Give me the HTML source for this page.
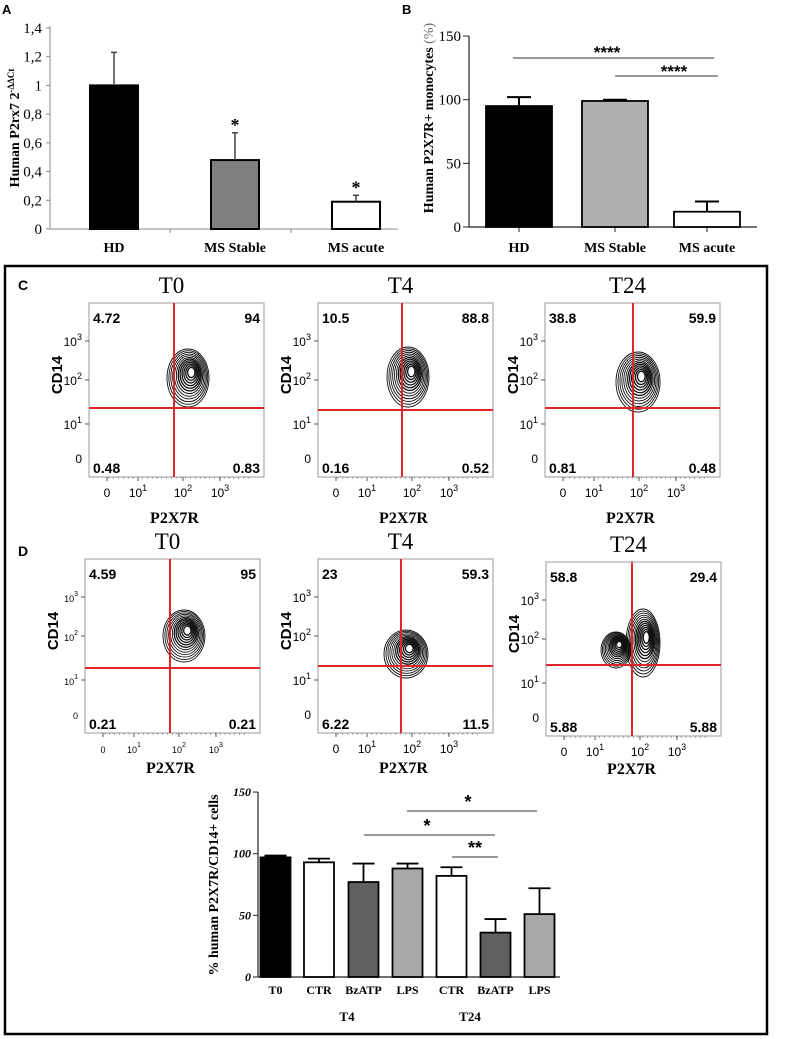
<!DOCTYPE html>
<html><head><meta charset="utf-8"><style>
html,body{margin:0;padding:0;background:#fff;}
svg{display:block;}
</style></head><body>
<svg id="fig" width="794" height="1039" viewBox="0 0 794 1039" xmlns="http://www.w3.org/2000/svg">
<rect x="0" y="0" width="794" height="1039" fill="#fff"/>
<g id="panelA"></g>
<g id="panelB"></g>
<rect x="5" y="266" width="762" height="768" fill="none" stroke="#000" stroke-width="2.5"/>
<g id="flow"></g>
<g id="panelE"></g>
</svg>
<script>
// ---------- data ----------
const catsA = ["HD","MS Stable","MS acute"];
const valsA = [1.0, 0.48, 0.19];
const errA = [0.23, 0.19, 0.045];
const ticksA = ["0","0,2","0,4","0,6","0,8","1","1,2","1,4"];
const tickValsA = [0,0.2,0.4,0.6,0.8,1.0,1.2,1.4];

const catsB = ["HD","MS Stable","MS acute"];
const valsB = [95, 99, 12];
const errB = [7, 1, 8];
const tickValsB = [0,50,100,150];

const catsE = ["T0","CTR","BzATP","LPS","CTR","BzATP","LPS"];
const valsE = [97, 93, 77, 88, 82, 36, 51];
const errE = [1.5, 3, 15, 4, 7, 11, 21];
const tickValsE = [0,50,100,150];

const flowNums = [
 ["4.72","94","0.48","0.83"],["10.5","88.8","0.16","0.52"],["38.8","59.9","0.81","0.48"],
 ["4.59","95","0.21","0.21"],["23","59.3","6.22","11.5"],["58.8","29.4","5.88","5.88"]];
const flowTitles = ["T0","T4","T24","T0","T4","T24"];

const NS="http://www.w3.org/2000/svg";
function mk(parent, tag, attrs, text){
  const e=document.createElementNS(NS,tag);
  for(const k in attrs) e.setAttribute(k,attrs[k]);
  if(text!==undefined) e.textContent=text;
  parent.appendChild(e); return e;
}

// ---------- Panel A ----------
(function(){
  const g=document.getElementById('panelA');
  const y=v=>229-v*143.6;
  const xc=[114,235,356];
  const colors=["#000","#808080","#fff"];
  let t=mk(g,'text',{x:2,y:14,'font-family':'Liberation Sans,sans-serif','font-weight':'bold','font-size':13},'A');
   
  let ax=mk(g,'line',{x1:50,y1:26,x2:50,y2:229,stroke:'#888','stroke-width':1});
   
  let bx=mk(g,'line',{x1:47,y1:229,x2:398,y2:229,stroke:'#888','stroke-width':1});
   
  tickValsA.forEach((v,i)=>{
    mk(g,'line',{x1:46,y1:y(v),x2:50,y2:y(v),stroke:'#888'});
    let l=mk(g,'text',{x:42,y:y(v)+5,'text-anchor':'end','font-family':'Liberation Serif,serif','font-size':15},ticksA[i]);
     
  });
  [170,291].forEach(x=>mk(g,'line',{x1:x,y1:229,x2:x,y2:233,stroke:'#888'}));
  catsA.forEach((c,i)=>{
    const b=mk(g,'rect',{x:xc[i]-24,y:y(valsA[i]),width:48,height:229-y(valsA[i]),fill:colors[i],stroke:'#000','stroke-width':2});
     
    const e=mk(g,'line',{x1:xc[i],y1:y(valsA[i]),x2:xc[i],y2:y(valsA[i]+errA[i]),stroke:'#444','stroke-width':1.5});
     
    mk(g,'line',{x1:xc[i]-3,y1:y(valsA[i]+errA[i]),x2:xc[i]+3,y2:y(valsA[i]+errA[i]),stroke:'#444','stroke-width':1.5});
    if(i>0){ const s=mk(g,'text',{x:xc[i],y:y(valsA[i]+errA[i])-2,'text-anchor':'middle','font-family':'Liberation Serif,serif','font-weight':'bold','font-size':18},'*');
       }
    const l=mk(g,'text',{x:xc[i],y:252,'text-anchor':'middle','font-family':'Liberation Serif,serif','font-weight':'bold','font-size':14},c);
     
  });
  const tt=mk(g,'text',{transform:'translate(19,128) rotate(-90)','text-anchor':'middle','font-family':'Liberation Serif,serif','font-weight':'bold','font-size':14});
   
  mk(tt,'tspan',{},'Human P2rx7 2');
  mk(tt,'tspan',{dy:-5,'font-size':9},'-ΔΔCt');
})();

// ---------- Panel B ----------
(function(){
  const g=document.getElementById('panelB');
  const y=v=>227-v*1.273;
  const xc=[519,615,707];
  const colors=["#000","#b0b0b0","#fff"];
  let t=mk(g,'text',{x:402,y:14,'font-family':'Liberation Sans,sans-serif','font-weight':'bold','font-size':13},'B');
   
  let ax=mk(g,'line',{x1:469,y1:36,x2:469,y2:227,stroke:'#222','stroke-width':1.2});
   
  let bx=mk(g,'line',{x1:469,y1:227,x2:757,y2:227,stroke:'#222','stroke-width':1.2});
   
  tickValsB.forEach(v=>{
    mk(g,'line',{x1:463,y1:y(v),x2:469,y2:y(v),stroke:'#222'});
    let l=mk(g,'text',{x:461,y:y(v)+5,'text-anchor':'end','font-family':'Liberation Serif,serif','font-size':15},String(v));
     
  });
  catsB.forEach((c,i)=>{
    mk(g,'line',{x1:xc[i],y1:227,x2:xc[i],y2:232,stroke:'#222'});
    const b=mk(g,'rect',{x:xc[i]-33,y:y(valsB[i]),width:66,height:227-y(valsB[i]),fill:colors[i],stroke:'#000','stroke-width':1.8});
     
    const e=mk(g,'line',{x1:xc[i],y1:y(valsB[i]),x2:xc[i],y2:y(valsB[i]+errB[i]),stroke:'#000','stroke-width':2});
     
    mk(g,'line',{x1:xc[i]-12,y1:y(valsB[i]+errB[i]),x2:xc[i]+12,y2:y(valsB[i]+errB[i]),stroke:'#000','stroke-width':2});
    const l=mk(g,'text',{x:xc[i],y:252,'text-anchor':'middle','font-family':'Liberation Serif,serif','font-weight':'bold','font-size':14},c);
     
  });
  let s1=mk(g,'line',{x1:513,y1:58,x2:714,y2:58,stroke:'#333','stroke-width':1});
   
  let s2=mk(g,'line',{x1:615,y1:76,x2:718,y2:76,stroke:'#333','stroke-width':1});
   
  let st1=mk(g,'text',{x:607,y:58,'text-anchor':'middle','font-family':'Liberation Sans,sans-serif','font-weight':'bold','font-size':17},'****');
   
  let st2=mk(g,'text',{x:674,y:77,'text-anchor':'middle','font-family':'Liberation Sans,sans-serif','font-weight':'bold','font-size':17},'****');
   
  const tt=mk(g,'text',{transform:'translate(433,118) rotate(-90)','text-anchor':'middle','font-family':'Liberation Serif,serif','font-weight':'bold','font-size':14},'Human P2X7R+ monocytes ');
   
  mk(tt,'tspan',{'font-weight':'normal','fill':'#666'},'(%)');
})();

// ---------- Flow plots ----------
(function(){
  const g=document.getElementById('flow');
  const plots=[
    {l:89,t:303,rx:174,ry:408,xo:46,blob:[[188,378,21,29]]},
    {l:318,t:303,rx:402,ry:410,xo:46,blob:[[408,377,21,30]]},
    {l:545,t:303,rx:633,ry:408,xo:46,blob:[[638,382,22,30]]},
    {l:85,t:559,rx:170,ry:668,xo:40,blob:[[184,636,21,26]]},
    {l:318,t:559,rx:401,ry:666,xo:40,blob:[[406,654,22,24]]},
    {l:546,t:562,rx:632,ry:665,xo:38,blob:[[616,650,15,18],[643,643,17,34]]}];
  const ph=174, pw=175;
  let cl=mk(g,'text',{x:18,y:290,'font-family':'Liberation Sans,sans-serif','font-weight':'bold','font-size':14},'C');
   
  let dl=mk(g,'text',{x:18,y:556,'font-family':'Liberation Sans,sans-serif','font-weight':'bold','font-size':14},'D');
   
  plots.forEach((p,i)=>{
    const pg=mk(g,'g',{});
    
    
    const ti=mk(pg,'text',{x:p.l+pw/2-5,y:p.t-10,'text-anchor':'middle','font-family':'Liberation Serif,serif','font-size':23},flowTitles[i]);
     
    mk(pg,'rect',{x:p.l,y:p.t,width:pw,height:ph,fill:'#fff',stroke:'#999','stroke-width':1});
    // contours
    p.blob.forEach(b=>{
      for(let k=0;k<12;k++){
        const f=1-k*0.075;
        mk(pg,'ellipse',{cx:b[0]+k*0.3,cy:b[1]-k*0.5,rx:b[2]*f,ry:b[3]*f,fill:'none',stroke:'#111','stroke-width':k>5?1.3:0.9});
      }
      mk(pg,'ellipse',{cx:b[0]+3,cy:b[1]-5,rx:b[2]*0.12,ry:b[3]*0.1,fill:'#fff'});
    });
    // red gates
    const v=mk(pg,'line',{x1:p.rx,y1:p.t,x2:p.rx,y2:p.t+ph,stroke:'#e0262a','stroke-width':2});
     
    const h=mk(pg,'line',{x1:p.l,y1:p.ry,x2:p.l+pw,y2:p.ry,stroke:'#e0262a','stroke-width':2});
     
    // numbers
    const n=flowNums[i], fs=14, ff='Liberation Sans,sans-serif';
    [[p.l+4,p.t+20,'start',n[0]],[p.l+pw-4,p.t+20,'end',n[1]],[p.l+4,p.t+ph-4,'start',n[2]],[p.l+pw-4,p.t+ph-4,'end',n[3]]].forEach(q=>{
      const tq=mk(pg,'text',{x:q[0],y:q[1],'text-anchor':q[2],'font-family':ff,'font-weight':'bold','font-size':fs},q[3]);
       
    });
    // y ticks
    const ys=[[38,'3'],[77,'2'],[121,'1']];
    const small = i===3;
    ys.forEach(yy=>{
      mk(pg,'line',{x1:p.l-4,y1:p.t+yy[0],x2:p.l,y2:p.t+yy[0],stroke:'#555'});
      const tx=mk(pg,'text',{x:p.l-7,y:p.t+yy[0]+5,'text-anchor':'end','font-family':ff,'font-size':small?9:12},'10');
      mk(tx,'tspan',{dy:-6,'font-size':small?7:9},yy[1]);
    });
    mk(pg,'text',{x:p.l-7,y:p.t+160,'text-anchor':'end','font-family':ff,'font-size':small?9:12},'0');
    // x ticks
    const xs=[[18,'0'],[49,'1'],[94,'2'],[131,'3']];
    xs.forEach((xx,j)=>{
      mk(pg,'line',{x1:p.l+xx[0],y1:p.t+ph,x2:p.l+xx[0],y2:p.t+ph+4,stroke:'#555'});
      const tx=mk(pg,'text',{x:p.l+xx[0],y:p.t+ph+20,'text-anchor':'middle','font-family':ff,'font-size':small?9:12},j===0?'0':'10');
      if(j>0) mk(tx,'tspan',{dy:-6,'font-size':small?7:9},xx[1]);
    });
    for(let k=0;k<30;k++){ mk(pg,'line',{x1:p.l+20+k*4.8,y1:p.t+ph,x2:p.l+20+k*4.8,y2:p.t+ph+2,stroke:'#777','stroke-width':0.6}); }
    const cd=mk(pg,'text',{transform:`translate(${p.l-27},${p.t+72}) rotate(-90)`,'text-anchor':'middle','font-family':ff,'font-weight':'bold','font-size':15},'CD14');
     
    const px=mk(pg,'text',{x:p.l+pw/2-2,y:p.t+ph+p.xo,'text-anchor':'middle','font-family':'Liberation Serif,serif','font-weight':'bold','font-size':16},'P2X7R');
     
  });
})();

// ---------- Bottom bar chart ----------
(function(){
  const g=document.getElementById('panelE');
  const y=v=>977-v*1.233;
  const xc=[275.5,319,363.5,407.5,451.5,495.5,539.5];
  const colors=["#000","#fff","#606060","#a8a8a8","#fff","#606060","#a8a8a8"];
  let ax=mk(g,'line',{x1:258,y1:792,x2:258,y2:977,stroke:'#222','stroke-width':1.2});
   
  let bx=mk(g,'line',{x1:258,y1:977,x2:560,y2:977,stroke:'#222','stroke-width':1.2});
   
  tickValsE.forEach(v=>{
    mk(g,'line',{x1:253,y1:y(v),x2:258,y2:y(v),stroke:'#222'});
    const l=mk(g,'text',{x:251,y:y(v)+4,'text-anchor':'end','font-family':'Liberation Serif,serif','font-weight':'bold','font-style':'italic','font-size':12},String(v));
     
  });
  catsE.forEach((c,i)=>{
    const b=mk(g,'rect',{x:xc[i]-15,y:y(valsE[i]),width:30,height:977-y(valsE[i]),fill:colors[i],stroke:'#000','stroke-width':1.8});
     
    const e=mk(g,'line',{x1:xc[i],y1:y(valsE[i]),x2:xc[i],y2:y(valsE[i]+errE[i]),stroke:'#000','stroke-width':1.8});
     
    mk(g,'line',{x1:xc[i]-11,y1:y(valsE[i]+errE[i]),x2:xc[i]+11,y2:y(valsE[i]+errE[i]),stroke:'#000','stroke-width':1.8});
    const l=mk(g,'text',{x:xc[i],y:994,'text-anchor':'middle','font-family':'Liberation Serif,serif','font-weight':'bold','font-size':12},c);
     
  });
  const g1=mk(g,'text',{x:347,y:1021,'text-anchor':'middle','font-family':'Liberation Serif,serif','font-weight':'bold','font-size':13},'T4');
   
  const g2=mk(g,'text',{x:470,y:1021,'text-anchor':'middle','font-family':'Liberation Serif,serif','font-weight':'bold','font-size':13},'T24');
   
  [[407,537,811,468,'*'],[364,495,835,427,'*'],[452,498,857,475,'**']].forEach(s=>{
    const ln=mk(g,'line',{x1:s[0],y1:s[2],x2:s[1],y2:s[2],stroke:'#333','stroke-width':1});
     
    const st=mk(g,'text',{x:s[3],y:s[2]-3,'text-anchor':'middle','font-family':'Liberation Sans,sans-serif','font-weight':'bold','font-size':18},s[4]);
     
  });
  const tt=mk(g,'text',{transform:'translate(218,885) rotate(-90)','text-anchor':'middle','font-family':'Liberation Serif,serif','font-weight':'bold','font-size':14},'% human P2X7R/CD14+ cells');
   
})();
</script>
</body></html>
